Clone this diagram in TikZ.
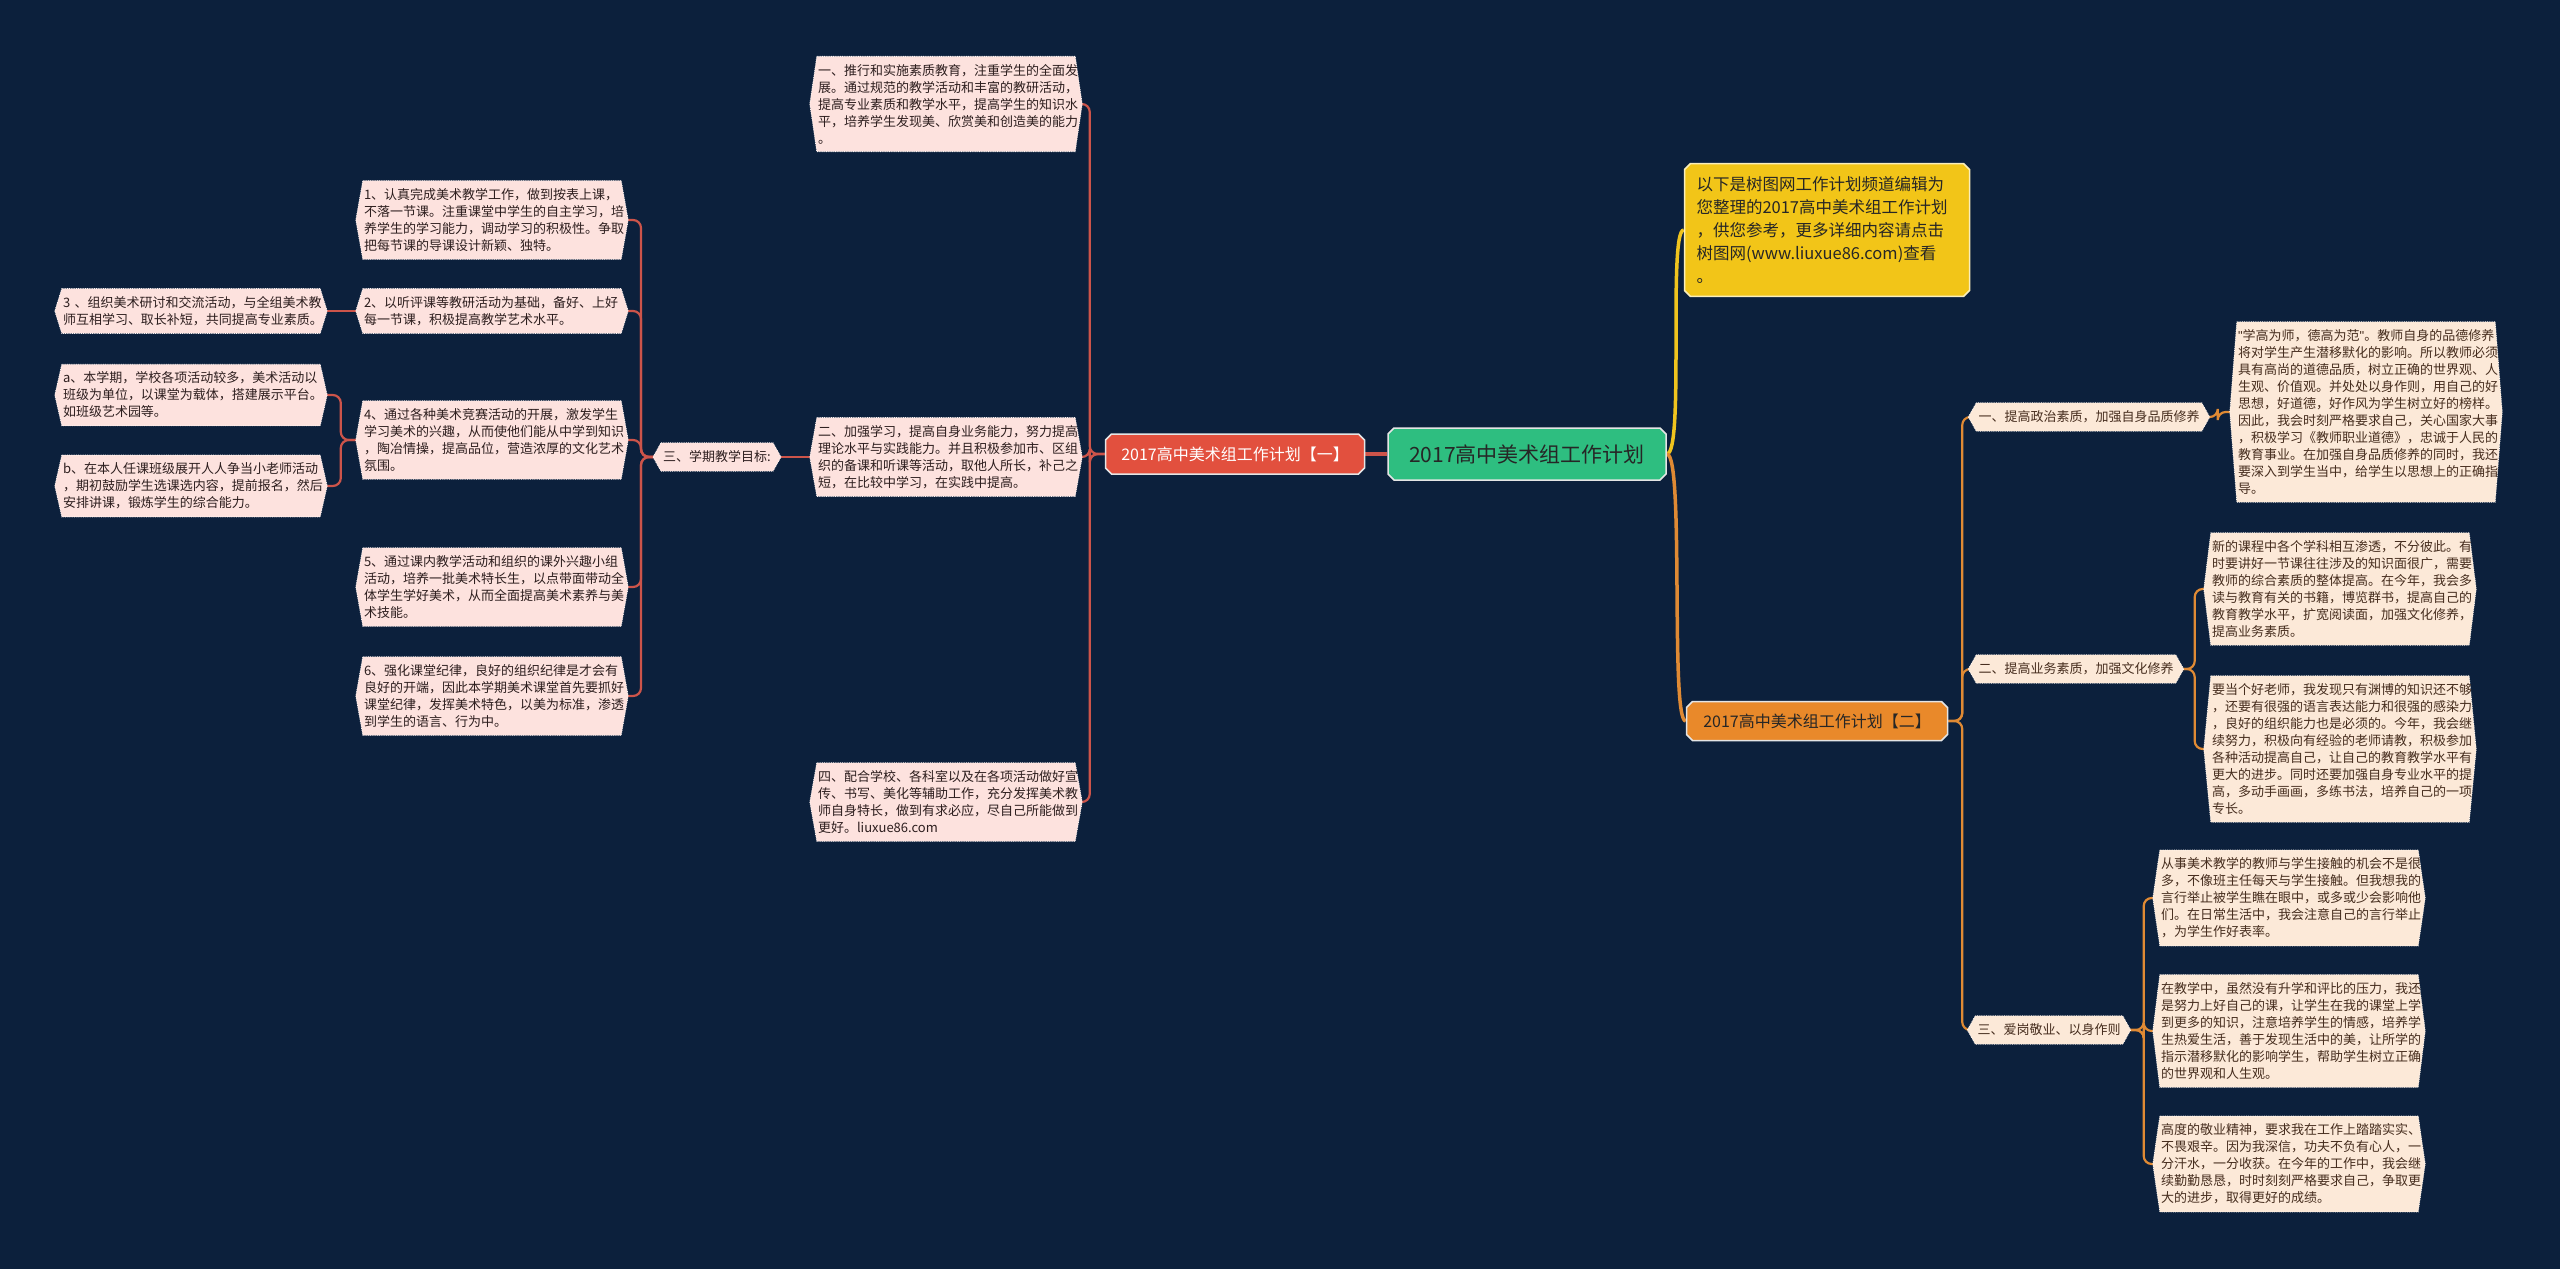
\documentclass[tikz,border=0pt]{standalone}
\usepackage{fontspec}
\setmainfont{Noto Sans CJK SC}
\newfontfamily\latinq{Liberation Sans}
\usetikzlibrary{shapes.misc}
\pgfdeclarelayer{bgl}\pgfdeclarelayer{edgel}\pgfdeclarelayer{shapel}
\pgfsetlayers{bgl,edgel,shapel,main}
\definecolor{bgcol}{RGB}{12,32,60}
\definecolor{rootfill}{RGB}{46,190,128}
\definecolor{redfill}{RGB}{226,80,62}
\definecolor{orangefill}{RGB}{233,137,42}
\definecolor{yellowfill}{RGB}{242,197,24}
\definecolor{pinkfill}{RGB}{253,226,222}
\definecolor{creamfill}{RGB}{252,233,216}
\definecolor{redline}{RGB}{205,84,74}
\definecolor{orangeline}{RGB}{224,138,52}
\definecolor{yellowline}{RGB}{240,196,30}
\definecolor{ltext}{RGB}{45,30,30}
\definecolor{rtext}{RGB}{70,45,30}
\newcommand\hexpath[3][7pt]{%
  \path[#2] (#3.north west) -- (#3.north east) -- ([xshift=#1]#3.east) -- (#3.south east)
    -- (#3.south west) -- ([xshift=-#1]#3.west) -- cycle;}
\tikzset{
  txt/.style={text width=256pt, align=left, inner xsep=1pt, inner ysep=7.5pt,
    font=\fontsize{13}{17}\selectfont},
  lefttxt/.style={txt, text=ltext},
  righttxt/.style={txt, text=rtext},
  lbl/.style={inner xsep=2pt, inner ysep=7pt, text height=11pt, text depth=3pt,
    font=\fontsize{13}{17}\selectfont},
  leftlbl/.style={lbl, text=ltext},
  rightlbl/.style={lbl, text=rtext},
  pinkhex/.style={fill=pinkfill, draw=white!70!pinkfill, densely dotted, line width=0.8pt},
  creamhex/.style={fill=creamfill, draw=white!70!creamfill, densely dotted, line width=0.8pt},
  topbox/.style={chamfered rectangle, chamfered rectangle xsep=3pt, chamfered rectangle ysep=3pt,
    draw=white!90!black, line width=1.5pt},
  redmain/.style={draw=redline, line width=3.5pt},
  redln/.style={draw=redline, line width=2.2pt, rounded corners=8pt},
  orangemain/.style={draw=orangeline, line width=3.5pt},
  orangeln/.style={draw=orangeline, line width=2.2pt, rounded corners=8pt},
  yellowmain/.style={draw=yellowline, line width=3.5pt},
}
\begin{document}
\begin{tikzpicture}[x=1pt,y=-1pt]
\useasboundingbox (0,0) rectangle (2560,1269);
\begin{pgfonlayer}{bgl}
\fill[bgcol] (0,0) rectangle (2560,1269);
\end{pgfonlayer}

% top level
\node[topbox, fill=rootfill, minimum width=278pt, minimum height=52pt, text=black!85,
  font=\fontsize{21}{21}\selectfont] (root) at (1527,454) {2017高中美术组工作计划};
\node[topbox, fill=redfill, minimum width=259pt, minimum height=40pt, text=white,
  font=\fontsize{16}{16}\selectfont] (p1) at (1235,454) {2017高中美术组工作计划【一】};
\node[topbox, fill=orangefill, minimum width=261pt, minimum height=39pt, text=black!85,
  font=\fontsize{16}{16}\selectfont] (p2) at (1817,721) {2017高中美术组工作计划【二】};
\node[topbox, fill=yellowfill, draw=white!70!yellowfill, text width=261pt, align=left,
  inner xsep=9pt, inner ysep=10pt, text=black!85, font=\fontsize{16.5}{23}\selectfont]
  (Y) at (1827,230) {以下是树图网工作计划频道编辑为\\您整理的2017高中美术组工作计划\\，供您参考，更多详细内容请点击\\树图网(www.liuxue86.com)查看\\。};

% middle column
\node[lefttxt] (M1) at (946,104) {一、推行和实施素质教育，注重学生的全面发\\展。通过规范的教学活动和丰富的教研活动，\\提高专业素质和教学水平，提高学生的知识水\\平，培养学生发现美、欣赏美和创造美的能力\\。};
\node[lefttxt] (M2) at (946,457) {二、加强学习，提高自身业务能力，努力提高\\理论水平与实践能力。并且积极参加市、区组\\织的备课和听课等活动，取他人所长，补己之\\短，在比较中学习，在实践中提高。};
\node[lefttxt] (M3) at (946,802) {四、配合学校、各科室以及在各项活动做好宣\\传、书写、美化等辅助工作，充分发挥美术教\\师自身特长，做到有求必应，尽自己所能做到\\更好。liuxue86.com};

\node[leftlbl] (G) at (717,457) {三、学期教学目标:};

% left column
\node[lefttxt] (L1) at (492,220) {1、认真完成美术教学工作，做到按表上课，\\不落一节课。注重课堂中学生的自主学习，培\\养学生的学习能力，调动学习的积极性。争取\\把每节课的导课设计新颖、独特。};
\node[lefttxt] (L2) at (492,311) {2、以听评课等教研活动为基础，备好、上好\\每一节课，积极提高教学艺术水平。};
\node[lefttxt] (L4) at (492,440) {4、通过各种美术竞赛活动的开展，激发学生\\学习美术的兴趣，从而使他们能从中学到知识\\，陶冶情操，提高品位，营造浓厚的文化艺术\\氛围。};
\node[lefttxt] (L5) at (492,587) {5、通过课内教学活动和组织的课外兴趣小组\\活动，培养一批美术特长生，以点带面带动全\\体学生学好美术，从而全面提高美术素养与美\\术技能。};
\node[lefttxt] (L6) at (492,696) {6、强化课堂纪律，良好的组织纪律是才会有\\良好的开端，因此本学期美术课堂首先要抓好\\课堂纪律，发挥美术特色，以美为标准，渗透\\到学生的语言、行为中。};

% far left column
\node[lefttxt] (L3) at (191,311) {3 、组织美术研讨和交流活动，与全组美术教\\师互相学习、取长补短，共同提高专业素质。};
\node[lefttxt] (La) at (191,395) {a、本学期，学校各项活动较多，美术活动以\\班级为单位，以课堂为载体，搭建展示平台。\\如班级艺术园等。};
\node[lefttxt] (Lb) at (191,486) {b、在本人任课班级展开人人争当小老师活动\\，期初鼓励学生选课选内容，提前报名，然后\\安排讲课，锻炼学生的综合能力。};

% right labels
\node[rightlbl] (R1L) at (2089,417) {一、提高政治素质，加强自身品质修养};
\node[rightlbl] (R2L) at (2076,669) {二、提高业务素质，加强文化修养};
\node[rightlbl] (R3L) at (2049,1030) {三、爱岗敬业、以身作则};

% right texts
\node[righttxt] (R1) at (2366,412) {{\latinq"}学高为师，德高为范{\latinq"}。教师自身的品德修养\\将对学生产生潜移默化的影响。所以教师必须\\具有高尚的道德品质，树立正确的世界观、人\\生观、价值观。并处处以身作则，用自己的好\\思想，好道德，好作风为学生树立好的榜样。\\因此，我会时刻严格要求自己，关心国家大事\\，积极学习《教师职业道德》，忠诚于人民的\\教育事业。在加强自身品质修养的同时，我还\\要深入到学生当中，给学生以思想上的正确指\\导。};
\node[righttxt] (R2a) at (2340,589) {新的课程中各个学科相互渗透，不分彼此。有\\时要讲好一节课往往涉及的知识面很广，需要\\教师的综合素质的整体提高。在今年，我会多\\读与教育有关的书籍，博览群书，提高自己的\\教育教学水平，扩宽阅读面，加强文化修养，\\提高业务素质。};
\node[righttxt] (R2b) at (2340,749) {要当个好老师，我发现只有渊博的知识还不够\\，还要有很强的语言表达能力和很强的感染力\\，良好的组织能力也是必须的。今年，我会继\\续努力，积极向有经验的老师请教，积极参加\\各种活动提高自己，让自己的教育教学水平有\\更大的进步。同时还要加强自身专业水平的提\\高，多动手画画，多练书法，培养自己的一项\\专长。};
\node[righttxt] (R3a) at (2289,898) {从事美术教学的教师与学生接触的机会不是很\\多，不像班主任每天与学生接触。但我想我的\\言行举止被学生瞧在眼中，或多或少会影响他\\们。在日常生活中，我会注意自己的言行举止\\，为学生作好表率。};
\node[righttxt] (R3b) at (2289,1031) {在教学中，虽然没有升学和评比的压力，我还\\是努力上好自己的课，让学生在我的课堂上学\\到更多的知识，注意培养学生的情感，培养学\\生热爱生活，善于发现生活中的美，让所学的\\指示潜移默化的影响学生，帮助学生树立正确\\的世界观和人生观。};
\node[righttxt] (R3c) at (2289,1164) {高度的敬业精神，要求我在工作上踏踏实实、\\不畏艰辛。因为我深信，功夫不负有心人，一\\分汗水，一分收获。在今年的工作中，我会继\\续勤勤恳恳，时时刻刻严格要求自己，争取更\\大的进步，取得更好的成绩。};

% hexagon shapes
\begin{pgfonlayer}{shapel}
\foreach \n in {M1,M2,M3,L1,L2,L4,L5,L6,L3,La,Lb}{\hexpath{pinkhex}{\n}}
\hexpath[8pt]{pinkhex}{G}
\foreach \n in {R1,R2a,R2b,R3a,R3b,R3c}{\hexpath{creamhex}{\n}}
\foreach \n in {R1L,R2L,R3L}{\hexpath[8pt]{creamhex}{\n}}
\end{pgfonlayer}

% connectors
\begin{pgfonlayer}{edgel}
\draw[redmain] (root.west) -- (p1.east);
\draw[yellowmain] (root.east) .. controls +(18,0) and +(-16,0) .. (Y.west);
\draw[orangemain] (root.east) .. controls +(18,0) and +(-16,0) .. (p2.west);
\foreach \n in {M1,M2,M3}{\draw[redln] (p1.west) -- ++(-15,0) |- (\n.east);}
\draw[redln] (M2.west) -- (G.east);
\foreach \n in {L1,L2,L4,L5,L6}{\draw[redln] (G.west) -- ++(-20,0) |- (\n.east);}
\draw[redln] (L2.west) -- (L3.east);
\foreach \n in {La,Lb}{\draw[redln] (L4.west) -- ++(-22,0) |- (\n.east);}
\foreach \n in {R1L,R2L,R3L}{\draw[orangeln] (p2.east) -- ++(14,0) |- (\n.west);}
\draw[orangeln] (R1L.east) -- ++(16,0) |- (R1.west);
\foreach \n in {R2a,R2b}{\draw[orangeln] (R2L.east) -- ++(19,0) |- (\n.west);}
\foreach \n in {R3a,R3b,R3c}{\draw[orangeln] (R3L.east) -- ++(21,0) |- (\n.west);}
\end{pgfonlayer}
\end{tikzpicture}
\end{document}
